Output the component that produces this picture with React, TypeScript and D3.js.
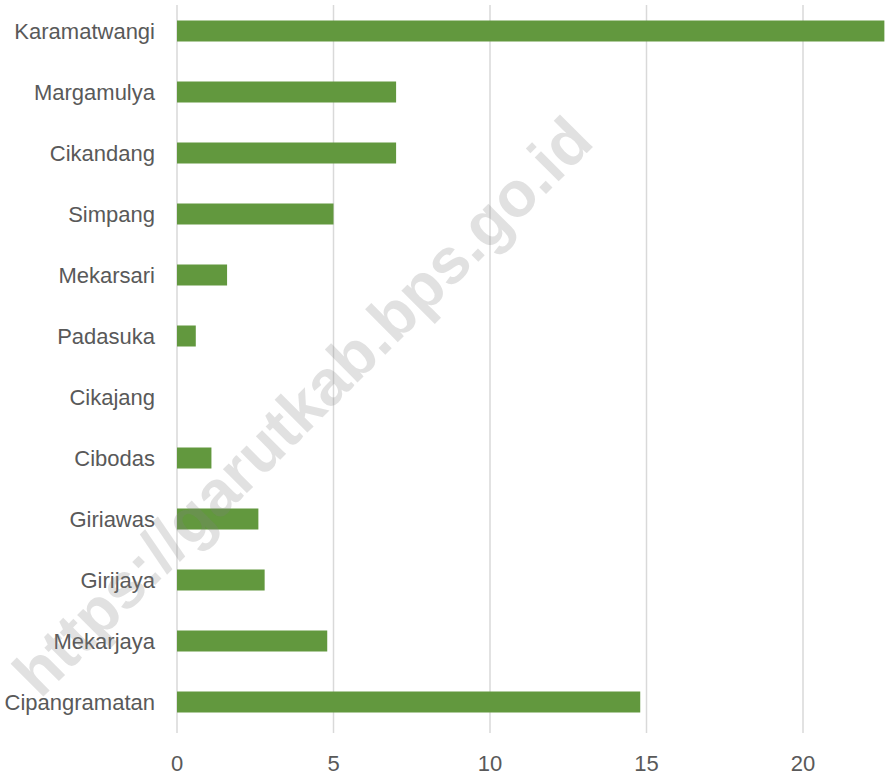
import React from "react";
import * as d3 from "d3";

const categories = [
  "Karamatwangi",
  "Margamulya",
  "Cikandang",
  "Simpang",
  "Mekarsari",
  "Padasuka",
  "Cikajang",
  "Cibodas",
  "Giriawas",
  "Girijaya",
  "Mekarjaya",
  "Cipangramatan",
];
const values = [22.6, 7, 7, 5, 1.6, 0.6, 0, 1.1, 2.6, 2.8, 4.8, 14.8];
const xTicks = [0, 5, 10, 15, 20];
const watermark = "https://garutkab.bps.go.id";

const W = 886;
const H = 774;
const FONT = "'Liberation Sans', Arial, sans-serif";

export default function App() {
  const x = d3.scaleLinear().domain([0, 25]).range([177, 177 + 25 * 31.3]);
  const y = d3.scalePoint<string>().domain(categories).range([0.5, 732.5]).padding(0.5);
  const barH = 21;
  const gridTop = 5;
  const gridBottom = 733;

  return (
    <svg
      width={W}
      height={H}
      style={{ position: "absolute", left: 0, top: 0, display: "block", background: "#fff" }}
    >
      <rect x={0} y={0} width={W} height={H} fill="#fff" />
      {xTicks.map((t) => (
        <line
          key={"g" + t}
          x1={x(t)}
          x2={x(t)}
          y1={gridTop}
          y2={gridBottom}
          stroke="#d9d9d9"
          strokeWidth={1.5}
        />
      ))}
      {categories.map((c, i) => (
        <rect
          key={"b" + c}
          x={x(0)}
          y={(y(c) as number) - barH / 2}
          width={Math.max(0, x(values[i]) - x(0))}
          height={barH}
          fill="#62983E"
        />
      ))}
      {categories.map((c) => (
        <text
          key={"l" + c}
          x={155}
          y={y(c) as number}
          textAnchor="end"
          dominantBaseline="central"
          fontFamily={FONT}
          fontSize={22}
          fill="#595959"
        >
          {c}
        </text>
      ))}
      {xTicks.map((t) => (
        <text
          key={"t" + t}
          x={x(t)}
          y={763}
          textAnchor="middle"
          dominantBaseline="central"
          fontFamily={FONT}
          fontSize={22}
          fill="#595959"
        >
          {t}
        </text>
      ))}
      <text
        x={318}
        y={422}
        transform="rotate(-45 318 422)"
        textAnchor="middle"
        fontFamily={FONT}
        fontWeight="bold"
        fontSize={64}
        fill="#808080"
        fillOpacity={0.24}
      >
        {watermark}
      </text>
    </svg>
  );
}
